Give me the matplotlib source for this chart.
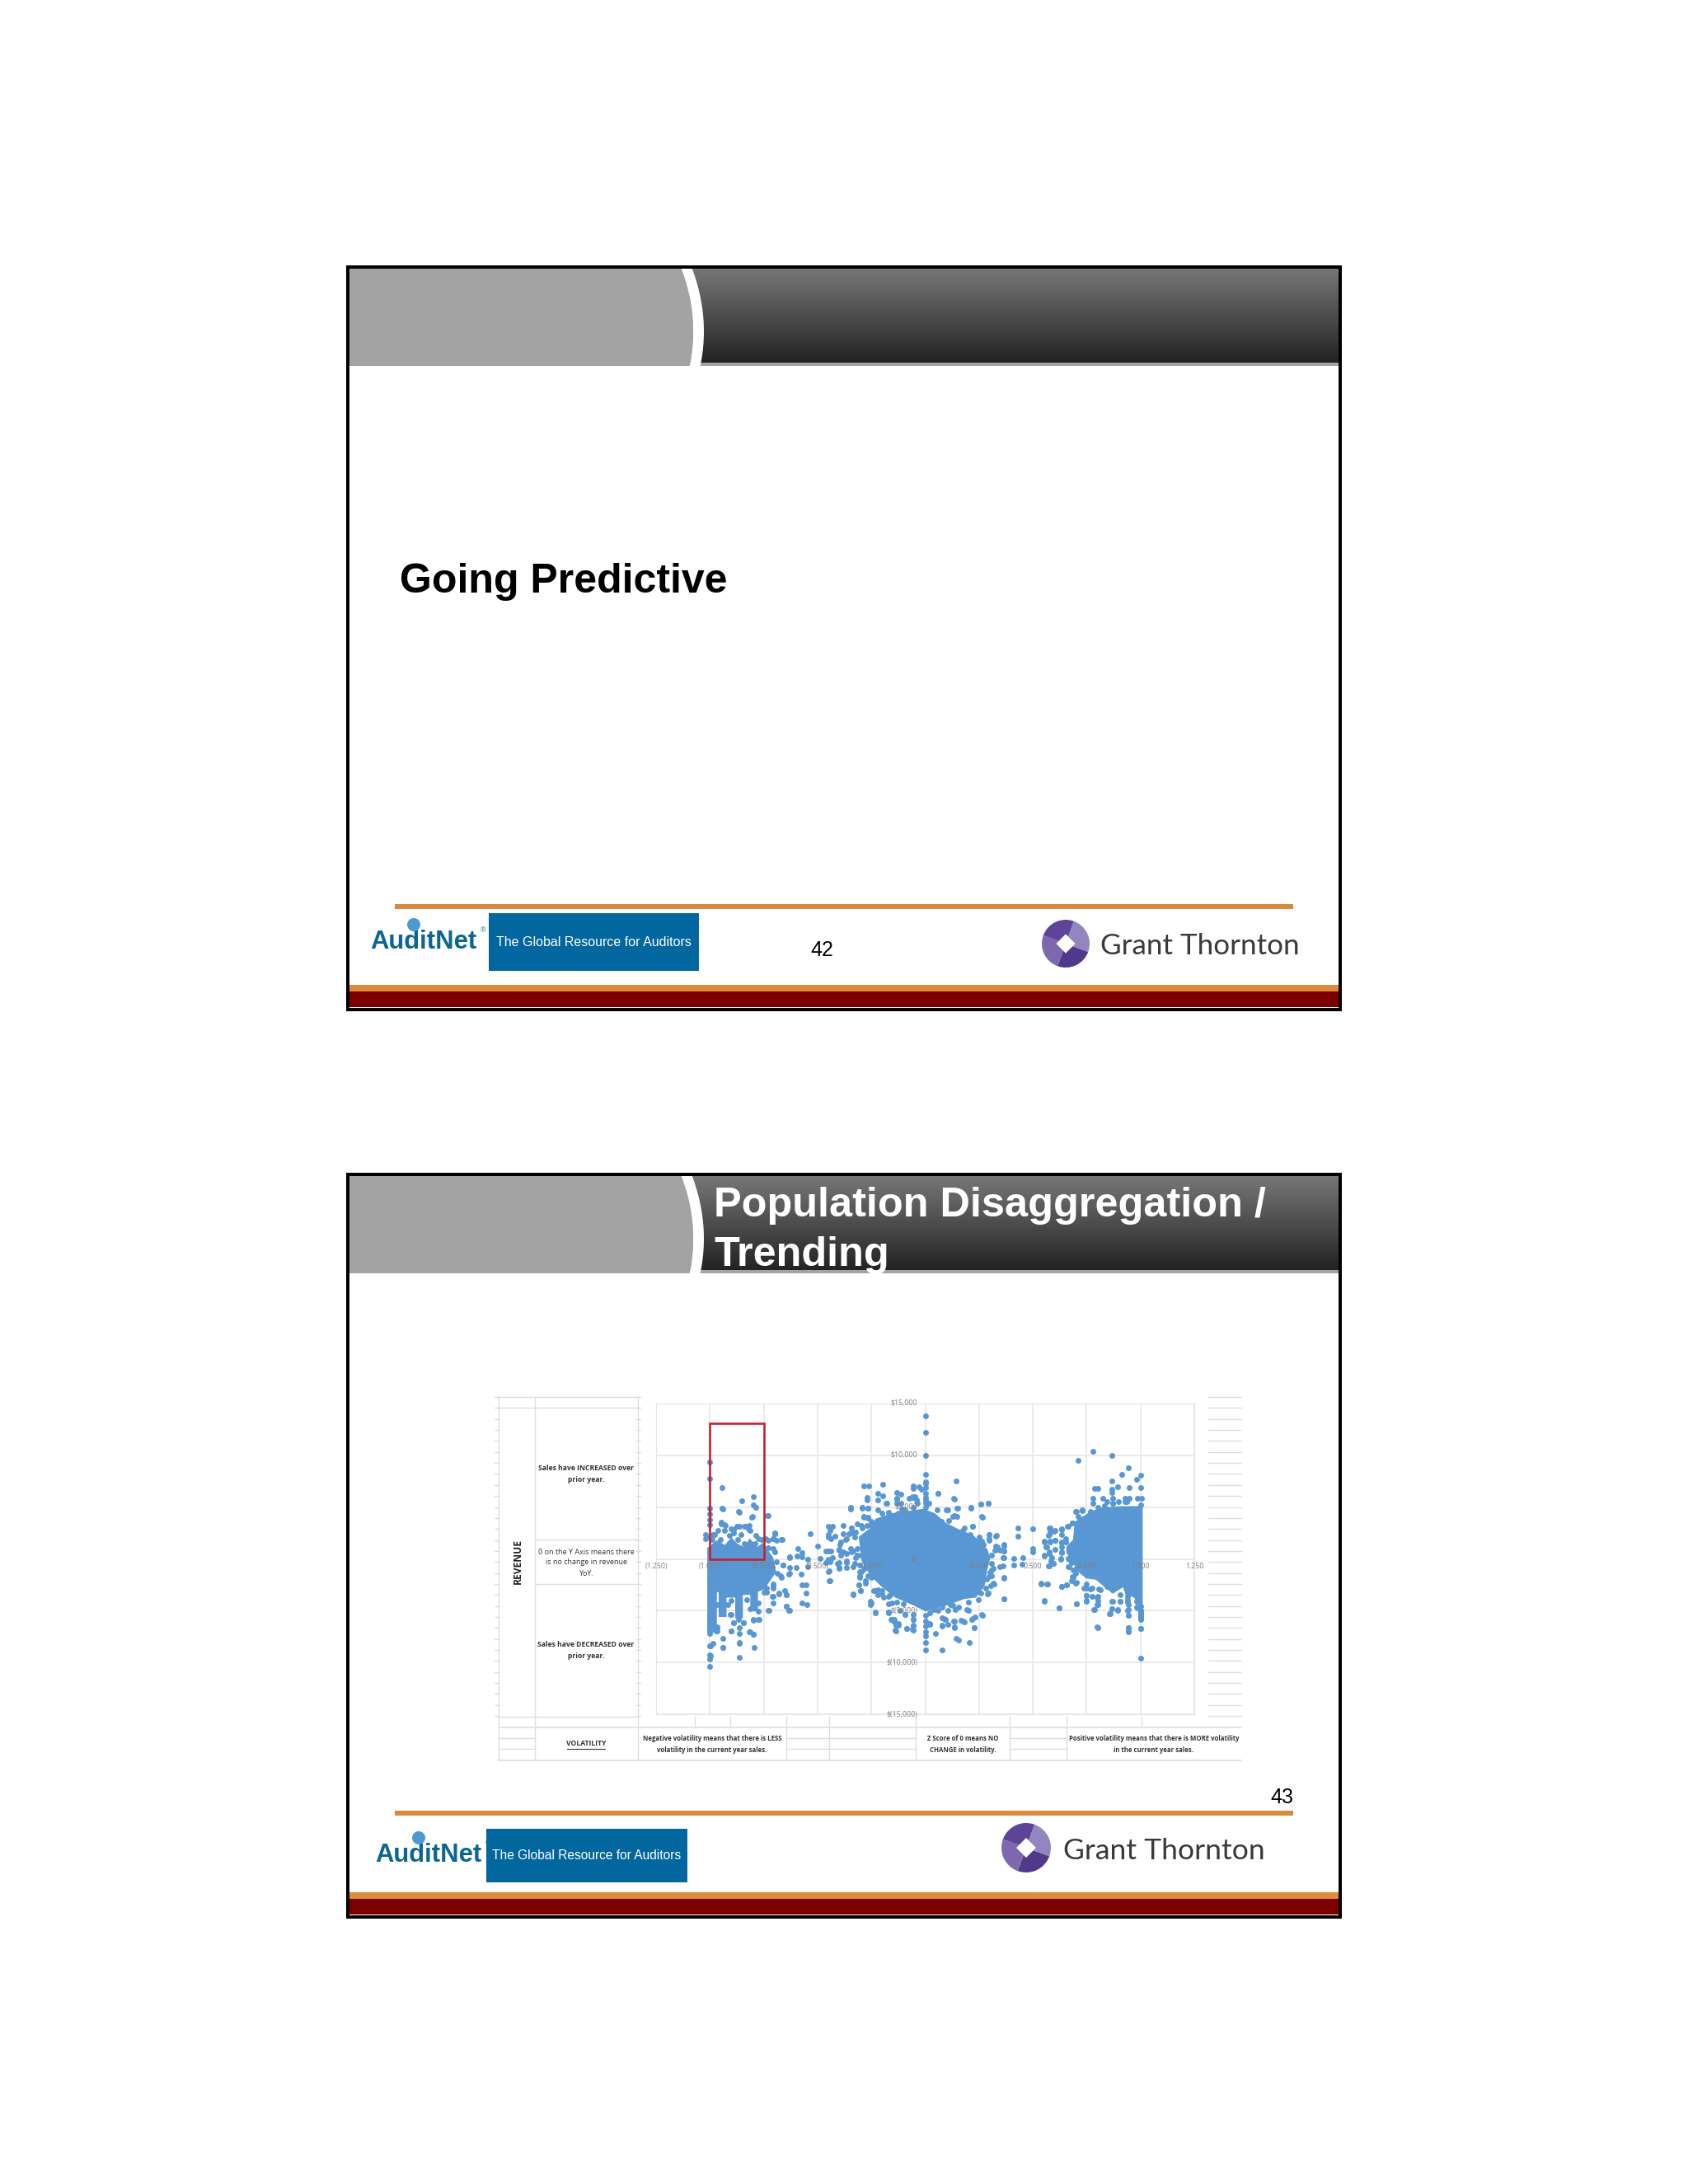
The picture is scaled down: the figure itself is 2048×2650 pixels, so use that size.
import numpy as np
import matplotlib
matplotlib.use("Agg")
import matplotlib.pyplot as plt
from matplotlib.patches import Rectangle, Circle, Polygon, Wedge

# volatility z score, revenue change in $
# outlines of the solid areas where the dots run together
mid_core = [(-.303, 2070), (-.246, 2990), (-.227, 3790), (-.150, 4320), (-.010, 4720), (.041, 4320), (.093, 3390),
            (.156, 2730), (.220, 2200), (.284, 870), (.297, 80), (.284, -980), (.271, -2570), (.233, -3630),
            (.182, -3760), (.093, -4430), (.003, -4960), (-.048, -4430), (-.137, -3630), (-.201, -2570),
            (-.252, -1510), (-.290, -190)]
right_core = [(.661, 1140), (.692, 1800), (.699, 3520), (.769, 4450), (.820, 4850), (.911, 4980), (1.005, 4980),
              (1.005, -4690), (.973, -3630), (.935, -3370), (.922, -2570), (.871, -3230), (.833, -2570),
              (.795, -1910), (.750, -1780), (.711, -1110), (.692, -320), (.661, 610)]
left_core = [(-1.007, 1000), (-.967, 1670), (-.93, 1200), (-.90, 1900), (-.877, 1400), (-.84, 1000), (-.814, 1800),
             (-.78, 1000), (-.756, 1400), (-.711, 80), (-.698, -1250), (-.750, -2840), (-.782, -3100), (-.782, -4960),
             (-.807, -4960), (-.807, -3370), (-.852, -3370), (-.852, -5620), (-.877, -5620), (-.877, -3630),
             (-.928, -3630), (-.928, -5500), (-.954, -5500), (-.954, -3100), (-.973, -3100), (-.973, -7000),
             (-1.007, -7000)]

mid_points = [(-.284, 7020), (-.261, 7050), (-.199, 7230), (-.131, 6390), (-.112, 6230), (-.221, 6360),
    (-.199, 6100), (-.268, 5940), (-.268, 5720), (-.131, 5860), (-.221, 5720), (-.179, 5410), (-.055, 7050),
    (-.055, 6780), (-.029, 6940), (-.017, 6730), (-.061, 5990), (-.074, 5880), (-.048, 6040), (-.042, 5720),
    (-.112, 5410), (-.131, 5410), (.060, 6360), (.143, 7530), (.133, 5880), (.258, 5330), (.293, 5410),
    (.212, 4960), (.148, 4900), (.105, 4740), (.263, 4110), (.148, 4130), (.130, 4130), (-.348, 4960),
    (-.348, 4820), (-.293, 4960), (-.265, 4880), (-.284, 4080), (-.265, 3950), (-.316, 3420), (-.291, 3020),
    (-.380, 3230), (-.344, 3020), (-.450, 3130), (-.431, 3130), (-.444, 2760), (-.450, 2360), (-.418, 2150),
    (-.437, 1960), (-.397, 1430), (-.367, 1960), (-.348, 2490), (-.332, 2540), (-.463, 770), (-.437, 770),
    (-.399, 900), (-.380, 640), (-.431, 110), (-.393, 370), (-.342, 640), (-.316, 370), (-.463, -370),
    (-.444, -290), (-.406, -420), (-.367, -210), (-.329, -420), (-.446, -1170), (-.399, -950), (-.367, -820),
    (-.304, -1220), (-.446, -2090), (-.310, -2490), (-.278, -2090), (-.301, -3070), (-.335, -3420),
    (-.253, -4130), (-.253, -4400), (-.233, -5140), (-.170, -5140), (-.138, -6920), (-.157, -5860),
    (-.144, -6120), (-.125, -6390), (-.087, -6700), (-.061, -6780), (-.055, -5860), (-.055, -6520),
    (-.093, -5410), (-.170, -4320), (-.195, -3740), (-.233, -3070), (.219, 3150), (.296, 2360), (.332, 2230),
    (.264, 1700), (.296, 1960), (.328, 1250), (.366, 1380), (.347, 820), (.366, 770), (.366, 110), (.411, 30),
    (.452, 110), (.360, -690), (.413, -560), (.449, -530), (.315, -950), (.366, -1880), (.321, -2410),
    (.366, -3820), (.293, -3340), (.264, -5410), (.232, -5590), (.216, -5860), (.226, -6650), (.168, -5910),
    (.181, -6120), (.136, -5990), (.136, -6650), (.105, -6330), (.079, -5720), (.092, -5860), (.079, -6520),
    (.047, -7180), (.022, -6330), (.143, -7710), (.156, -7840), (.204, -8110), (.077, -8770), (.194, -4930),
    (.140, -4930), (.079, -4660), (.296, -1750), (.283, -2810)]
mid_fringe = [(-.348, 4900), (-.293, 4930), (-.265, 4900), (-.220, 4720), (-.182, 5380), (-.131, 5780), (-.093, 4720),
    (-.054, 4980), (-.201, 4450), (-.284, 4050), (-.265, 4050), (-.252, 3660), (-.297, 3260), (-.271, 3260),
    (-.341, 2990), (-.354, 2460), (-.370, 1880), (-.322, 2600), (-.329, 2070), (-.348, 1010), (-.316, 1010),
    (-.297, 340), (-.322, 80), (-.303, -580), (-.284, -980), (-.297, -1250), (-.265, -1640), (-.303, -1780),
    (-.278, -2310), (-.239, -3100), (-.201, -3100), (-.220, -3500), (-.169, -3630), (-.156, -4290), (-.131, -4160),
    (-.169, -5170), (-.118, -4960), (-.093, -5350), (-.054, -5880), (-.054, -5350), (-.144, -5880), (-.125, -6280),
    (-.137, -6940), (-.087, -6730), (-.054, -6860), (-.054, -6410), (.022, -5220), (.061, -4960), (.105, -4960),
    (.118, -4430), (.156, -4690), (.201, -4960), (.246, -3900), (.290, -3370), (.303, -2570), (.316, -2310),
    (.284, -1910), (.086, -5750), (.131, -6020), (.176, -6020), (.220, -5750), (.265, -5430), (.022, -6280),
    (.080, -6410), (.137, -6550), (.226, -6680), (.061, 6310), (.099, 4720), (.137, 5780), (.137, 4190), (.150, 4900),
    (.214, 4930), (.265, 4050), (.258, 5300), (.294, 5380), (.220, 3130), (.176, 2730), (.207, 2330), (.252, 1800),
    (.297, 2330), (.297, 1800), (.271, 1400), (.322, 870), (.309, 340), (.367, 1270), (.367, 740), (.360, 80),
    (.348, -720), (.309, -1110), (.309, -1640), (.367, -1780), (.367, -3840), (.329, 2200), (.335, 1190),
    (-.124, 4450), (-.061, 5910), (-.035, 5380), (.016, 5380), (.054, 4720), (.073, 3660), (-.170, 4500),
    (-.110, 4800), (-.250, 3200), (.110, 3700), (.180, 3000), (.250, 2100), (-.220, -3000), (-.100, -4300),
    (.040, -4900), (.130, -4500), (.200, -4200), (.260, -3300), (.300, -1300), (.310, -400)]
zero_column = [13810, 12190, 9960, 8140, 7470, 7310, 6860, 6330, 5940, 5670, 5410, 5010, -5460, -5990,
               -6520, -7050, -7450, -8060, -8820]

bridge_points = [(-.699, 2460), (-.667, 1860), (-.705, 1930), (-.533, 2390), (-.590, 1010), (-.501, 1220),
    (-.629, 210), (-.597, 290), (-.571, 610), (-.571, 210), (-.546, -50), (-.450, 740), (-.450, -50),
    (-.488, 30), (-.660, -580), (-.629, -850), (-.599, -850), (-.546, -720), (-.450, -1250), (-.443, -2090),
    (-.577, -1510), (-.667, -1780), (-.635, -1510), (-.705, -2440), (-.705, -2840), (-.574, -2490),
    (-.552, -2520), (-.552, -3310), (-.680, -3310), (-.654, -3100), (-.644, -3450), (-.705, -3630),
    (-.705, -4290), (-.727, -4960), (-.645, -4560), (-.632, -4960), (-.574, -4290), (-.549, -4430),
    (-.737, -1510), (-.737, -2840), (-.750, -2310), (-.711, -720), (-.686, -1380), (-.737, -720),
    (-.380, 2460), (-.450, 2070), (-.392, 1670), (-.399, 870), (-.367, 480), (-.335, 740), (-.316, 340),
    (-.399, -320), (-.399, -850), (-.367, -320), (-.335, -720), (-.278, -720), (-.303, -1640), (-.252, -1780),
    (-.227, -3100), (-.201, -3370), (-.163, -3500), (-.309, -2490), (-.300, -3100), (-.335, -3450),
    (-.252, -4290), (-.233, -5220), (-.169, -5220), (-.156, -5880), (-.137, -6410)]

left_points = [(-1, 9330), (-1, 7790), (-.942, 6920), (-.799, 6020), (-.850, 5590), (-.799, 5220), (-.785, 5010),
    (-.942, 4880), (-1, 4880), (-1, 4350), (-1, 3800), (-1, 3300), (-.866, 4560), (-.803, 4080), (-.734, 4210),
    (-.949, 3420), (-.931, 3290), (-.873, 3150), (-.833, 3150), (-.822, 2890), (-.961, 2760), (-.931, 2760),
    (-.903, 2890), (-.891, 2490), (-.857, 2360), (-.787, 2230), (-.776, 1960), (-.699, 2490), (-.692, 1830),
    (-.741, 1960), (-1.019, 1960), (-.984, 2360), (-1.019, 2360), (-.967, -6550), (-.969, -6940), (-.941, -7660),
    (-.903, -6940), (-.890, -6150), (-.867, -5880), (-.845, -6150), (-.865, -6680), (-.865, -7210), (-.816, -7080),
    (-.798, -7290), (-.798, -5940), (-.775, -5880), (-.813, -4820), (-.775, -5090), (-.865, -8080), (-.865, -9510),
    (-.793, -8590), (-.941, -8590), (-.986, -8140), (-1, -8400), (-1, -9280), (-1, -9670), (-1, -10360),
    (-.903, -5350), (-.865, -5220), (-.941, -5220), (-.941, -4690), (-.967, -4430), (-1, -5490), (-1, -5800),
    (-1, -6150), (-1, -6500), (-1, -6810), (-1, -7210)]
left_fringe = [(-.947, 3520), (-.928, 3260), (-.890, 2860), (-.865, 3130), (-.839, 3130), (-.816, 3260), (-.813, 2730),
    (-.806, 4050), (-.865, 4530), (-.941, 4800), (-.731, 4190), (-1.017, 2070), (-.979, 2330), (-.698, 2460),
    (-.666, 1880), (-.705, 1930), (-.731, 1800), (-.737, 1010), (-.705, 1010), (-.660, -580), (-.628, 80),
    (-.628, -1380), (-.673, -1640), (-.705, -2570), (-.737, -3230), (-.679, -3370), (-.644, -3500), (-.709, -3630),
    (-.730, -4960), (-.644, -4560), (-.631, -4960), (-.798, -5880), (-.773, -5880), (-.813, -7080), (-.798, -7290),
    (-.890, -6150), (-.901, -6940), (-.966, -6680), (-.966, -6940), (-.941, -8590), (-.998, -8400), (-.865, -8140),
    (-.998, -9330), (-.904, -5350), (-.846, -6150), (-.916, -4430), (-.775, -4290), (-.990, 1900), (-.950, 1900),
    (-.910, 2300), (-.870, 1900), (-.840, 1500), (-.790, 1500), (-.760, 1900), (-.730, 1100), (-.700, 700),
    (-.690, -300), (-.900, -4000), (-.830, -3900), (-.750, -3200)]

right_points = [(.778, 10410), (.867, 9960), (.709, 9490), (.944, 8820), (.913, 8140), (1, 8060), (.982, 7710),
    (.867, 7530), (1, 6920), (.946, 6890), (.895, 6940), (.787, 6780), (.802, 6780), (.867, 6730), (.866, 6410),
    (.778, 5880), (.824, 5880), (.870, 5880), (.927, 5880), (.946, 5880), (.985, 5880), (1.004, 5880), (.781, 5410),
    (.844, 5540), (.870, 5410), (.927, 5540), (1, 5220), (.698, 4560), (.730, 4660), (.710, 4080), (.685, 3470),
    (.663, 3130), (.634, 2890), (.579, 2970), (.599, 2680), (.577, 2360), (.634, 2360), (.653, 1960), (.500, 2890),
    (.429, 3020), (.429, 2150), (.554, 1700), (.579, 1700), (.561, 1170), (.602, 1830), (.634, 1560), (.500, 1010),
    (.500, 640), (.554, 320), (.577, 640), (.634, 640), (.589, 110), (.630, 50), (.666, 50), (.577, -690),
    (.596, -420), (.663, -740), (.704, -950), (.685, -1750), (.702, -2280), (.656, -2540), (.634, -2680),
    (.536, -2380), (.566, -2410), (.554, -4050), (.622, -4740), (.702, -4350), (.749, -2810), (.768, -2940),
    (.749, -3550), (.749, -4050), (.783, -4880), (.800, -3740), (.800, -4400), (.806, -2940), (.867, -4130),
    (.906, -4130), (.867, -4800), (.893, -4930), (.857, -5270), (.944, -4400), (.944, -4930), (.944, -5460),
    (.985, -4130), (.985, -4720), (.800, -6600), (.944, -6650), (.944, -6970), (1, -4600), (1, -5190), (1, -5720),
    (1, -5860), (1, -6730), (1, -9570)]
right_fringe = [(.704, 4580), (.730, 4720), (.769, 4580), (.801, 4980), (.833, 5110), (.871, 5380), (.897, 5510),
    (.935, 5510), (.685, 3470), (.660, 3130), (.635, 2860), (.603, 2730), (.577, 2990), (.580, 2600), (.571, 2250),
    (.555, 1670), (.580, 1670), (.603, 1800), (.565, 1190), (.603, 930), (.577, 480), (.635, 1670), (.654, 1670),
    (.635, 1140), (.635, 610), (.667, 740), (.555, 290), (.628, -50), (.667, -50), (.680, -320), (.584, -190),
    (.597, -450), (.571, -660), (.667, -720), (.686, -1110), (.705, -850), (.699, -1380), (.686, -1780), (.699, -2310),
    (.680, -2120), (.657, -2520), (.632, -2700), (.750, -2440), (.776, -2840), (.737, -2840), (.813, -2970),
    (.845, -2700), (.750, -3550), (.776, -3630), (.801, -3630), (.801, -4030), (.801, -4430), (.750, -4080),
    (.703, -4370), (.871, -4110), (.907, -3500), (.907, -4110), (.868, -4820), (.894, -4960), (.858, -5300),
    (.941, -4960), (.945, -5490), (.983, -4110), (.983, -4640), (1, -5090), (1, -5750), (.555, -4080), (.622, -4740),
    (.788, -4900), (.802, -6620), (.945, -6680), (.945, -7020), (1, -6760), (.537, -2440), (.567, -2440),
    (.94, -3600), (.94, -3900), (.94, -4200), (.985, -3600), (.985, -4000), (1, -4950), (1, -5300), (1, -5500)]

x_ticks = [-1.25, -1.0, -0.75, -0.5, -0.25, 0.25, 0.5, 0.75, 1.0, 1.25]
x_tick_labels = ["(1.250)", "(1.000)", "(0.750)", "(0.500)", "(0.250)", "0.250", "0.500", "0.750", "1.000", "1.250"]
y_ticks = [15000, 10000, 5000, 0, -5000, -10000, -15000]
y_tick_labels = ["$15,000", "$10,000", "$5,000", "$-", "$(5,000)", "$(10,000)", "$(15,000)"]
highlight_box = (-1.0, -0.75, -70, 13100)

W, H = 2048, 2650
DOT = "#5897d3"
GRID = "#e6e6ea"
TABLE = "#dedede"
ARIAL = ["Liberation Sans", "DejaVu Sans"]
SHEET = ["Open Sans", "DejaVu Sans"]

fig = plt.figure(figsize=(W / 100, H / 100), dpi=100, facecolor="white")
page = fig.add_axes([0, 0, 1, 1])
page.set_xlim(0, W)
page.set_ylim(H, 0)
page.axis("off")


def px(size):
    return size * 0.72


def box(x0, y0, x1, y1, color, z=1):
    page.add_patch(Rectangle((x0, y0), x1 - x0, y1 - y0, fc=color, ec="none", zorder=z))


def slide(top, bottom):
    left, right = 422, 1626
    head_bottom = top + 120
    box(left, top, right, head_bottom, "#a3a3a3", 1)
    grad = np.linspace(0.47, 0.14, 64).reshape(-1, 1)
    page.imshow(grad, cmap="gray", vmin=0, vmax=1, aspect="auto", zorder=2,
                extent=(832, right, head_bottom - 4, top), interpolation="bilinear")
    # grey tab ends in a shallow arc with a white band after it
    t = np.linspace(0, 1, 40)
    yy = top + t * 120
    edge = 841 - 35.5 * (t - 0.65) ** 2
    tab = np.r_[np.c_[edge, yy], [[800, head_bottom], [800, top]]]
    page.add_patch(Polygon(tab, fc="#a3a3a3", ec="none", zorder=3))
    band = np.r_[np.c_[edge, yy], np.c_[edge + 13, yy][::-1]]
    page.add_patch(Polygon(band, fc="white", ec="none", zorder=4))
    page.set_xlim(0, W)
    page.set_ylim(H, 0)
    box(left, bottom - 30, right, bottom - 22, "#dc8a3c", 2)
    box(left, bottom - 22, right, bottom - 3, "#7d0000", 2)
    page.add_patch(Rectangle((left, top), right - left, bottom - top, fc="none", ec="black", lw=px(4), zorder=6))


def footer(line_y, auditnet, blue, gt_c, gt_r, gt_x, gt_y, gt_size, num, num_x, num_y):
    box(479, line_y, 1569, line_y + 6, "#d98a3d", 3)
    page.text(auditnet[0], auditnet[1], "AuditNet", family=ARIAL, fontweight="bold", fontsize=px(31),
              color="#0d6593", ha="left", va="center", zorder=5)
    page.add_patch(Circle((auditnet[0] + 53, auditnet[1] - 21), 8, fc="#4d9ad0", ec="none", zorder=5))
    page.text(auditnet[0] + 137, auditnet[1] - 14, "®", fontsize=px(9), color="#0d6593", family=ARIAL,
              ha="center", va="center", zorder=5)
    box(blue[0], blue[1], blue[2], blue[3], "#03679f", 3)
    page.text((blue[0] + blue[2]) / 2, (blue[1] + blue[3]) / 2, "The Global Resource for Auditors",
              family=ARIAL, fontsize=px(blue[4]), color="white", ha="center", va="center", zorder=5)
    # Grant Thornton mark
    cx, cy = gt_c
    tones = ["#50388a", "#7d68b0", "#5d4498", "#9385c0"]
    for k, tone in enumerate(tones):
        page.add_patch(Wedge((cx, cy), gt_r, 20 + k * 90, 110 + k * 90, fc=tone, ec="none", zorder=4))
    d = gt_r * 0.4
    page.add_patch(Polygon([(cx - d, cy), (cx, cy - d), (cx + d, cy), (cx, cy + d)], fc="white", ec="none", zorder=5))
    page.text(gt_x, gt_y, "Grant Thornton", family=["Lato", "DejaVu Sans"], fontsize=px(gt_size),
              color="#3a3a3a", ha="left", va="center", zorder=5)
    page.text(num_x, num_y, num, family=ARIAL, fontsize=px(25), color="black", ha="center", va="center", zorder=5)


slide(324, 1225)
slide(1425, 2326)
footer(1097, (449, 1143), (593, 1108, 848, 1178, 16), (1293, 1145), 29, 1335, 1148, 35, "42", 997, 1153)
footer(2197, (455, 2251), (590, 2219, 834, 2284, 15.5), (1245, 2242), 30, 1290, 2246, 35.5, "43", 1555, 2181)

page.text(485, 706, "Going Predictive", family=ARIAL, fontweight="bold", fontsize=px(50), color="black",
          ha="left", va="center", zorder=5)
page.text(866, 1463, "Population Disaggregation /", family=ARIAL, fontweight="bold", fontsize=px(50.4),
          color="white", ha="left", va="center", zorder=5)
page.text(866, 1523, "Trending", family=ARIAL, fontweight="bold", fontsize=px(50.4), color="white",
          ha="left", va="center", zorder=5)

# spreadsheet lines behind the chart
for y in [1695, 1708, 2083]:
    page.plot([605, 774], [y, y], color=TABLE, lw=1, zorder=1)
for y in [1868, 1922]:
    page.plot([649, 774], [y, y], color=TABLE, lw=1, zorder=1)
for y in [2096, 2136]:
    page.plot([605, 1506], [y, y], color=TABLE, lw=1.2, zorder=1)
for y in [2109, 2122]:
    page.plot([605, 649], [y, y], color=TABLE, lw=1, zorder=1)
    for a, b in [(954, 1111), (1225, 1294)]:
        page.plot([a, b], [y, y], color=TABLE, lw=1, zorder=1)
for x in [605, 649, 774]:
    page.plot([x, x], [1695, 2136], color=TABLE, lw=1, zorder=1)
for x in [954, 1006, 1111, 1225, 1294]:
    page.plot([x, x], [2083, 2136], color=TABLE, lw=1, zorder=1)
for x in [843, 886, 1385]:
    page.plot([x, x], [2083, 2096], color=TABLE, lw=1, zorder=1)
for i in range(30):
    y = 1695 + i * 13.35
    page.plot([600, 605], [y, y], color=TABLE, lw=1, zorder=1)
    page.plot([772, 777], [y, y], color=TABLE, lw=1, zorder=1)
    page.plot([1466, 1506], [y, y], color=TABLE, lw=1, zorder=1)

page.text(628, 1895, "REVENUE", family=SHEET, fontweight="bold", fontsize=px(12), rotation=90, color="#222222",
          ha="center", va="center", zorder=5)
side_text = [(711, 1782, "Sales have INCREASED over", "bold"), (711, 1796, "prior year.", "bold"),
             (711, 1996, "Sales have DECREASED over", "bold"), (711, 2009, "prior year.", "bold"),
             (711, 1883, "0 on the Y Axis means there", "normal"), (711, 1896, "is no change in revenue", "normal"),
             (711, 1909, "YoY.", "normal")]
bottom_text = [(864, 2110, "Negative volatility means that there is LESS"),
               (864, 2123, "volatility in the current year sales."),
               (1168, 2110, "Z Score of 0 means NO"), (1168, 2123, "CHANGE in volatility."),
               (1400, 2110, "Positive volatility means that there is MORE volatility"),
               (1400, 2123, "in the current year sales.")]
for x, y, s, w in side_text:
    page.text(x, y, s, family=SHEET, fontweight=w, fontsize=px(8.6 if w == "bold" else 9), color="#333333",
              ha="center", va="center", zorder=5)
for x, y, s in bottom_text:
    page.text(x, y, s, family=SHEET, fontweight="bold", fontsize=px(7.8), color="#333333",
              ha="center", va="center", zorder=5)
page.text(711, 2116, "VOLATILITY", family=SHEET, fontweight="bold", fontsize=px(8.6), color="#333333",
          ha="center", va="center", zorder=5)
page.plot([688, 734], [2122, 2122], color="#333333", lw=0.8, zorder=5)

# the scatter itself
x0, x1, y0, y1 = 796, 1449, 1703, 2080
ax = fig.add_axes([x0 / W, 1 - y1 / H, (x1 - x0) / W, (y1 - y0) / H])
ax.patch.set_alpha(0)
ax.set_xlim(-1.25, 1.25)
ax.set_ylim(-15000, 15000)
ax.set_xticks(np.arange(-1.25, 1.26, 0.25))
ax.set_yticks(np.arange(-15000, 15001, 5000))
ax.grid(True, color=GRID, lw=1.1)
ax.set_axisbelow(True)
ax.tick_params(length=0, labelbottom=False, labelleft=False)
for s in ax.spines.values():
    s.set_color(GRID)

for core in [mid_core, right_core, left_core]:
    ax.add_patch(Polygon(core, fc=DOT, ec=DOT, lw=2, zorder=3))

scatter_sets = [mid_points, mid_fringe, bridge_points, left_points, left_fringe, right_points, right_fringe,
                [(0, v) for v in zero_column]]
for pts in scatter_sets:
    arr = np.array(pts)
    ax.scatter(arr[:, 0], arr[:, 1], s=25, color=DOT, linewidths=0, zorder=3, clip_on=False)

ax.add_patch(Rectangle((highlight_box[0], highlight_box[2]), highlight_box[1] - highlight_box[0],
                       highlight_box[3] - highlight_box[2], fc="none", ec="#c6202c", lw=px(2.6), zorder=5))

for v, s in zip(x_ticks, x_tick_labels):
    ax.annotate(s, (v, 0), xytext=(0, -px(9)), textcoords="offset points", family=SHEET, fontsize=px(8.8),
                color="#7f7f7f", ha="center", va="center", zorder=6)
for v, s in zip(y_ticks, y_tick_labels):
    ax.annotate(s, (0, v), xytext=(-px(9), 0), textcoords="offset points", family=SHEET, fontsize=px(8.8),
                color="#7f7f7f", ha="right", va="center", zorder=6)

fig.savefig("out.png", dpi=100, facecolor="white")
